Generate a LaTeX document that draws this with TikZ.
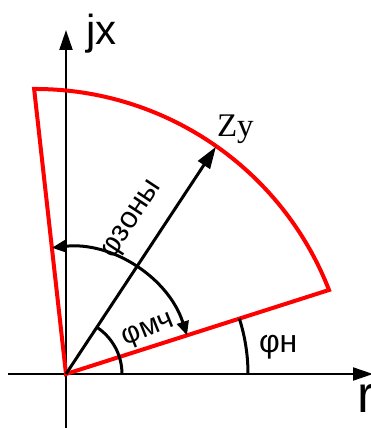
\documentclass[tikz,border=0pt]{standalone}
\usepackage{fontspec}
\setmainfont{Liberation Sans}
\newfontfamily\zyfont{Liberation Serif}
\usetikzlibrary{arrows.meta}
\begin{document}
\begin{tikzpicture}[x=1pt,y=1pt,
  axis/.style={line width=2pt,-{Triangle[length=20pt,width=13pt]}},
  sector/.style={draw=red,line width=4pt,line join=miter},
  vec/.style={line width=3pt,-{Triangle[length=22pt,width=14pt]}},
  angarc/.style={line width=3pt},
  lbl/.style={inner sep=0pt,outer sep=0pt}]
\useasboundingbox (0,0) rectangle (371,428);
\coordinate (O) at (66,54);
\coordinate (xs) at (8,54);
\coordinate (xe) at (373,54);
\coordinate (ys) at (66,-2);
\coordinate (ye) at (66,398);
\coordinate (C) at (329,138);
\coordinate (B) at (216,281.3);
% axes
\draw[axis] (xs) -- (xe);
\draw[axis] (ys) -- (ye);
% red sector
\draw[sector] (O) -- (C) arc[start angle=21.24,end angle=90.2,radius=315.2] -- cycle;
% Zy vector
\draw[vec] (O) -- (B);
% angle arcs
\draw[angarc,{Triangle[length=14pt,width=12pt]}-{Triangle[length=14pt,width=12pt]}]
  ([shift={(17.7:127)}]O) arc[start angle=17.7,end angle=96.4,radius=127];
\draw[angarc] ([shift={(0:56)}]O) arc[start angle=0,end angle=56.6,radius=56];
\draw[angarc] ([shift={(0:182)}]O) arc[start angle=0,end angle=17.7,radius=182];
% labels
\node[lbl,anchor=base west,font=\fontsize{42}{42}\selectfont] (jx) at (86,383) {jx};
\node[lbl,anchor=base west,font=\fontsize{52}{52}\selectfont] (r) at (357,15) {r};
\node[lbl,anchor=base west,font=\zyfont\fontsize{33}{33}\selectfont] (zy) at (217,291) {Zy};
\node[lbl,anchor=base west,font=\fontsize{32}{32}\selectfont] (phin) at (259,75) {φн};
\node[lbl,rotate=22,font=\fontsize{29}{29}\selectfont] (phimch) at (149,97) {φмч};
\node[lbl,rotate=56.6,font=\fontsize{30}{30}\selectfont] (phiz) at (133,208) {φзоны};
\end{tikzpicture}
\end{document}
